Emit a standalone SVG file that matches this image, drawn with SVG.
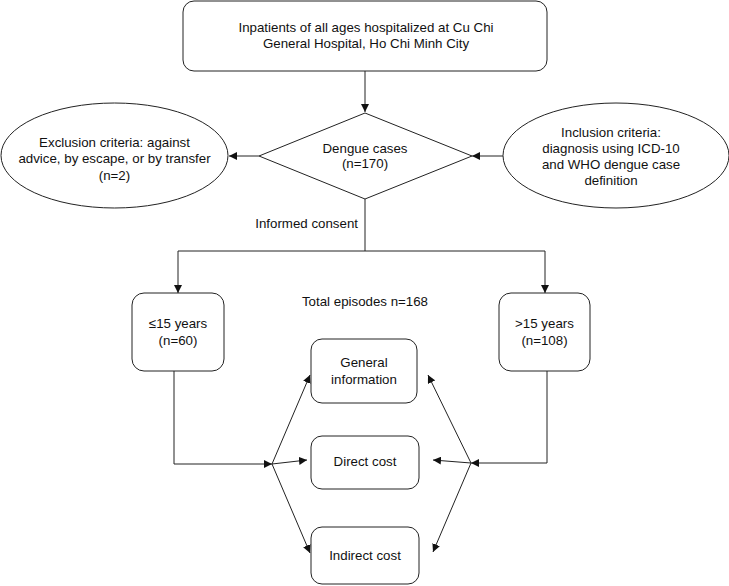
<svg xmlns="http://www.w3.org/2000/svg" width="729" height="586" viewBox="0 0 729 586">
<defs>
<style>
.s{fill:#fff;stroke:#222;stroke-width:1}
.t{font-family:"Liberation Sans",Arial,sans-serif;font-size:13.3px;fill:#111;text-anchor:middle}
.c{fill:none;stroke:#222;stroke-width:1}
</style>
<marker id="a" viewBox="0 0 10 10" refX="10" refY="5" markerWidth="8" markerHeight="8" markerUnits="userSpaceOnUse" orient="auto">
<path d="M0,0 L10,5 L0,10 Z" fill="#111"/>
</marker>
</defs>
<rect width="729" height="586" fill="#fff"/>
<g id="connectors">
<path class="c" d="M365,71 V112" marker-end="url(#a)"/>
<path class="c" d="M259,156 H229" marker-end="url(#a)"/>
<path class="c" d="M503,156 H472" marker-end="url(#a)"/>
<path class="c" d="M365,199 V251 M178,251 H545"/>
<path class="c" d="M178,251 V293" marker-end="url(#a)"/>
<path class="c" d="M545,251 V293" marker-end="url(#a)"/>
<path class="c" d="M174,371 V464 H272" marker-end="url(#a)"/>
<path class="c" d="M272,464 L310,375" marker-end="url(#a)"/>
<path class="c" d="M272,464 L307,460" marker-end="url(#a)"/>
<path class="c" d="M272,464 L310,553" marker-end="url(#a)"/>
<path class="c" d="M547,371 V463 H471" marker-end="url(#a)"/>
<path class="c" d="M471,463 L428,375" marker-end="url(#a)"/>
<path class="c" d="M471,463 L433,460" marker-end="url(#a)"/>
<path class="c" d="M471,463 L433,552" marker-end="url(#a)"/>
</g>
<g id="inpatients">
<rect class="s" x="183" y="1" width="364" height="70" rx="11"/>
<text class="t" x="366" y="32">Inpatients of all ages hospitalized at Cu Chi</text>
<text class="t" x="366" y="48">General Hospital, Ho Chi Minh City</text>
</g>
<g id="dengue">
<path class="s" d="M365,113 L472,156 L365,199 L259,156 Z"/>
<text class="t" x="365" y="153">Dengue cases</text>
<text class="t" x="365" y="168">(n=170)</text>
</g>
<g id="exclusion">
<ellipse class="s" cx="114.5" cy="155.5" rx="113.5" ry="52.5"/>
<text class="t" x="114.5" y="147">Exclusion criteria: against</text>
<text class="t" x="114.5" y="163">advice, by escape, or by transfer</text>
<text class="t" x="114.5" y="180">(n=2)</text>
</g>
<g id="inclusion">
<ellipse class="s" cx="616" cy="155.5" rx="113" ry="52.5"/>
<text class="t" x="611" y="137">Inclusion criteria:</text>
<text class="t" x="611" y="153">diagnosis using ICD-10</text>
<text class="t" x="611" y="169">and WHO dengue case</text>
<text class="t" x="611" y="185">definition</text>
</g>
<g id="consent">
<text class="t" x="358" y="228" style="text-anchor:end">Informed consent</text>
</g>
<g id="total">
<text class="t" x="365" y="306">Total episodes n=168</text>
</g>
<g id="young">
<rect class="s" x="132" y="293" width="92" height="78" rx="12"/>
<text class="t" x="178" y="328">≤15 years</text>
<text class="t" x="178" y="345">(n=60)</text>
</g>
<g id="old">
<rect class="s" x="499" y="293" width="91" height="78" rx="12"/>
<text class="t" x="544.5" y="328">&gt;15 years</text>
<text class="t" x="544.5" y="345">(n=108)</text>
</g>
<g id="general">
<rect class="s" x="311" y="339" width="106" height="64" rx="11"/>
<text class="t" x="364" y="367">General</text>
<text class="t" x="364" y="384">information</text>
</g>
<g id="direct">
<rect class="s" x="311" y="436" width="108" height="53" rx="11"/>
<text class="t" x="365" y="466">Direct cost</text>
</g>
<g id="indirect">
<rect class="s" x="311" y="527" width="108" height="57" rx="11"/>
<text class="t" x="365" y="560">Indirect cost</text>
</g>
</svg>
